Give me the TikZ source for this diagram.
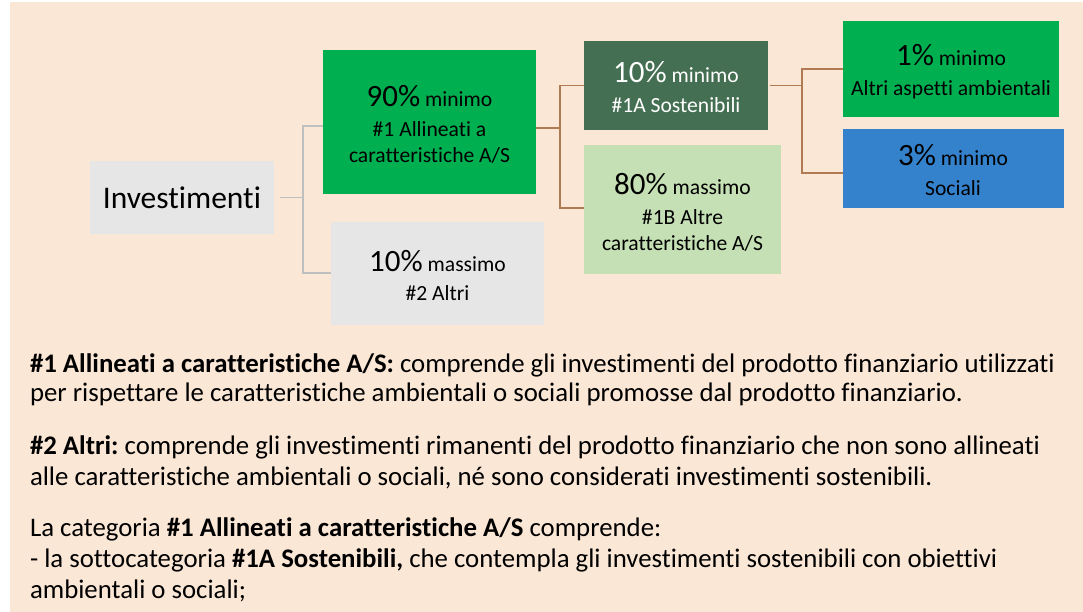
\documentclass[tikz,border=0pt]{standalone}
\usepackage{fontspec}
\setmainfont{Carlito}[Ligatures={NoCommon}]
\frenchspacing
\definecolor{bgpeach}{HTML}{FBE7D6}
\definecolor{boxgrey}{HTML}{E6E6E6}
\definecolor{brightgreen}{HTML}{00B050}
\definecolor{darkgreen}{HTML}{446F52}
\definecolor{lightgreen}{HTML}{C5E0B4}
\definecolor{bluebox}{HTML}{3482CC}
\definecolor{greyline}{HTML}{BFBFBF}
\definecolor{brownline}{HTML}{B07A53}
\newcommand\bigpct[1]{{\fontsize{31}{31}\selectfont #1}}
\newcommand\boxlines[1]{\begin{tabular}[t]{@{}c@{}}#1\end{tabular}}
\begin{document}
\begin{tikzpicture}[x=1pt,y=-1pt,
  panel/.style={rectangle, inner sep=0pt, outer sep=0pt},
  boxtext/.style={anchor=base, inner sep=0pt, outer sep=0pt, font=\fontsize{21.6}{26}\selectfont},
  bodytext/.style={anchor=base west, inner sep=0pt, outer sep=0pt, font=\fontsize{26.8}{30}\selectfont},
  gline/.style={draw=greyline, line width=1.8pt},
  bline/.style={draw=brownline, line width=1.8pt}]
\useasboundingbox (0,0) rectangle (1083,612);
\fill[bgpeach] (10,2) rectangle (1083,612);

% boxes
\node[panel, fill=boxgrey, minimum width=183.7pt, minimum height=73pt, font=\fontsize{31.5}{31.5}\selectfont] (inv) at (181.9,197.5) {Investimenti};
\node[panel, fill=brightgreen, minimum width=213pt, minimum height=143.7pt] (a90) at (429.5,121.85) {};
\node[panel, fill=boxgrey, minimum width=212.7pt, minimum height=102.7pt] (m10) at (437.35,273.35) {};
\node[panel, fill=darkgreen, minimum width=184pt, minimum height=89pt] (s10) at (676,85.5) {};
\node[panel, fill=lightgreen, minimum width=197pt, minimum height=129pt] (b80) at (682.5,209.5) {};
\node[panel, fill=brightgreen, minimum width=216pt, minimum height=96pt] (p1) at (951,69) {};
\node[panel, fill=bluebox, minimum width=220.5pt, minimum height=79pt] (p3) at (953.25,168.5) {};

% box texts
\node[boxtext] (a90t) at (429.5,106.7) {\boxlines{\bigpct{90\%} minimo\\[3.5pt] \#1 Allineati a\\ caratteristiche A/S}};
\node[boxtext] (m10t) at (437.5,271) {\boxlines{\bigpct{10\%} massimo\\[3.5pt] \#2 Altri}};
\node[boxtext, text=white] (s10t) at (676,82.7) {\boxlines{\bigpct{10\%} minimo\\[3.5pt] \#1A Sostenibili}};
\node[boxtext] (b80t) at (682.5,195) {\boxlines{\bigpct{80\%} massimo\\[3.5pt] \#1B Altre\\ caratteristiche A/S}};
\node[boxtext] (p1t) at (951,66) {\boxlines{\bigpct{1\%} minimo\\[3.5pt] Altri aspetti ambientali}};
\node[boxtext] (p3t) at (953,166) {\boxlines{\bigpct{3\%} minimo\\[3.5pt] Sociali}};

% grey connectors
\coordinate (gj) at ([xshift=29.3pt]inv.east);
\draw[gline] ([xshift=6.3pt]inv.east) -- (gj);
\draw[gline] ([yshift=-3.85pt]a90.west) -| (gj) |- (m10.west);

% brown connectors
\coordinate (bj) at ([xshift=24pt,yshift=-5.85pt]a90.east);
\draw[bline] ([yshift=-5.85pt]a90.east) -- (bj);
\draw[bline] (s10.west) -| (bj) |- ([yshift=1.8pt]b80.west);
\coordinate (cj) at ([xshift=34pt]s10.east);
\draw[bline] ([xshift=2pt]s10.east) -- (cj);
\draw[bline] (p1.west) -| (cj) |- ([yshift=-4.8pt]p3.west);

% explanatory text
\node[bodytext] (l1) at (30,372) {\textbf{\#1 Allineati a caratteristiche A/S:} comprende gli investimenti del prodotto finanziario utilizzati};
\node[bodytext] (l2) at (30,401) {per rispettare le caratteristiche ambientali o sociali promosse dal prodotto finanziario.};
\node[bodytext] (l3) at (30,454) {\textbf{\#2 Altri:} comprende gli investimenti rimanenti del prodotto finanziario che non sono allineati};
\node[bodytext] (l4) at (30,485) {alle caratteristiche ambientali o sociali, né sono considerati investimenti sostenibili.};
\node[bodytext] (l5) at (30,536) {La categoria \textbf{\#1 Allineati a caratteristiche A/S} comprende:};
\node[bodytext] (l6) at (30,567) {- la sottocategoria \textbf{\#1A Sostenibili,} che contempla gli investimenti sostenibili con obiettivi};
\node[bodytext] (l7) at (30,598) {ambientali o sociali;};
\end{tikzpicture}
\end{document}
